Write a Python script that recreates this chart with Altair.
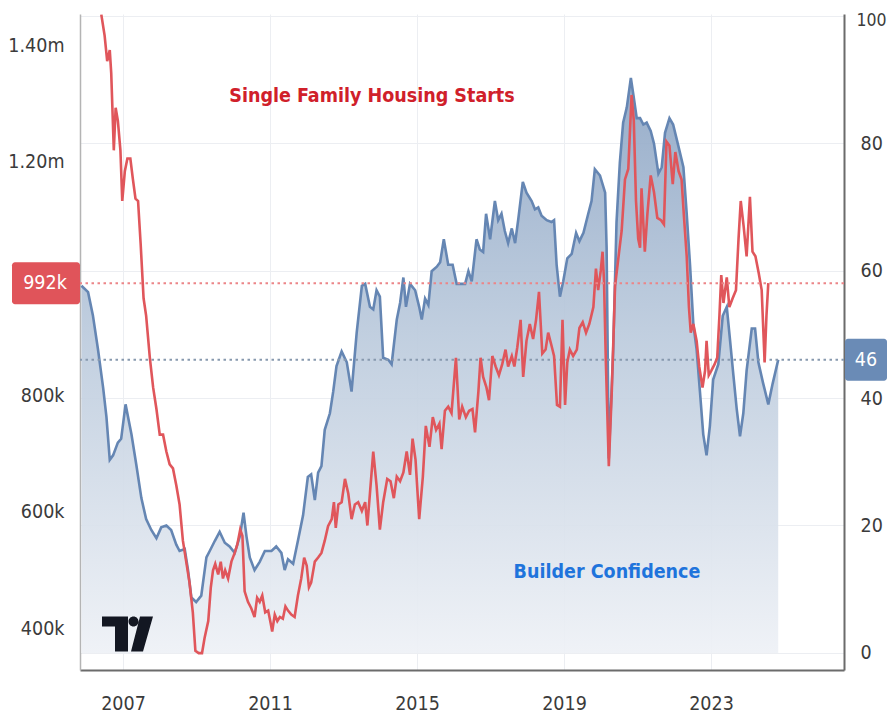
import altair as alt
import pandas as pd

# ---------------- data ----------------
BLUE_YEARS = [2005.87, 2006.05, 2006.18, 2006.32, 2006.46, 2006.55, 2006.64, 2006.73, 2006.86, 2006.95,
              2007.07, 2007.23, 2007.36, 2007.50, 2007.63, 2007.77, 2007.91, 2008.04, 2008.18, 2008.31,
              2008.45, 2008.54, 2008.68, 2008.77, 2008.86, 2008.99, 2009.13, 2009.27, 2009.36, 2009.50,
              2009.63, 2009.77, 2009.90, 2010.04, 2010.18, 2010.28, 2010.36, 2010.45, 2010.58, 2010.72,
              2010.86, 2011.04, 2011.17, 2011.31, 2011.40, 2011.49, 2011.63, 2011.76, 2011.90, 2012.03,
              2012.12, 2012.22, 2012.31, 2012.40, 2012.49, 2012.63, 2012.72, 2012.81, 2012.95, 2013.09,
              2013.22, 2013.36, 2013.50, 2013.59, 2013.72, 2013.81, 2013.90, 2013.99, 2014.08, 2014.22,
              2014.31, 2014.45, 2014.54, 2014.63, 2014.70, 2014.81, 2014.95, 2015.06, 2015.13, 2015.22,
              2015.31, 2015.40, 2015.54, 2015.63, 2015.73, 2015.85, 2015.97, 2016.08, 2016.22, 2016.31,
              2016.40, 2016.49, 2016.62, 2016.71, 2016.80, 2016.88, 2016.99, 2017.12, 2017.21, 2017.30,
              2017.39, 2017.48, 2017.58, 2017.67, 2017.76, 2017.88, 2017.98, 2018.12, 2018.21, 2018.30,
              2018.39, 2018.53, 2018.66, 2018.73, 2018.80, 2018.89, 2018.98, 2019.09, 2019.21, 2019.33,
              2019.42, 2019.53, 2019.66, 2019.75, 2019.84, 2019.98, 2020.12, 2020.16, 2020.22, 2020.34,
              2020.43, 2020.52, 2020.61, 2020.71, 2020.82, 2020.89, 2020.98, 2021.07, 2021.16, 2021.25,
              2021.36, 2021.45, 2021.57, 2021.66, 2021.75, 2021.87, 2021.97, 2022.11, 2022.25, 2022.34,
              2022.43, 2022.52, 2022.61, 2022.70, 2022.79, 2022.88, 2022.97, 2023.06, 2023.20, 2023.32,
              2023.43, 2023.52, 2023.61, 2023.70, 2023.79, 2023.88, 2023.97, 2024.11, 2024.20, 2024.29,
              2024.42, 2024.56, 2024.68, 2024.83]
BLUE_VALUES = [57.6, 56.6, 53.0, 47.6, 41.6, 37.0, 30.3, 31.0, 33.0, 33.6,
               39.0, 34.3, 29.6, 24.3, 21.0, 19.3, 18.0, 19.7, 20.0, 19.3,
               17.0, 16.0, 16.3, 13.0, 8.7, 8.0, 9.0, 15.0, 16.0, 17.6,
               19.0, 17.3, 16.7, 15.7, 18.3, 22.0, 18.3, 15.0, 13.0, 14.3,
               16.0, 16.0, 16.7, 15.7, 13.0, 14.7, 14.0, 17.6, 21.6, 27.6,
               28.0, 24.0, 28.3, 29.3, 35.0, 37.6, 41.0, 45.0, 47.3, 45.6,
               41.0, 50.3, 57.6, 57.9, 54.3, 53.9, 56.9, 55.9, 46.3, 46.0,
               45.3, 52.3, 54.9, 58.9, 54.3, 57.9, 56.9, 54.3, 52.3, 55.6,
               54.6, 59.9, 60.6, 61.3, 64.9, 60.9, 60.9, 57.9, 57.9, 57.9,
               59.9, 58.3, 64.9, 63.3, 62.9, 68.9, 64.9, 70.9, 67.9, 68.9,
               66.2, 64.3, 66.6, 64.3, 68.2, 73.9, 72.2, 70.9, 69.6, 69.9,
               68.6, 67.9, 67.6, 67.9, 60.9, 55.9, 58.3, 61.9, 62.6, 65.9,
               64.6, 65.9, 68.9, 70.9, 75.9, 74.9, 72.2, 63.6, 30.5, 47.6,
               67.6, 76.9, 83.2, 85.6, 90.2, 87.5, 83.9, 83.9, 82.9, 83.2,
               81.9, 79.9, 75.2, 76.2, 81.6, 83.9, 82.9, 79.6, 76.2, 68.9,
               60.9, 51.6, 47.6, 41.0, 34.3, 31.0, 35.6, 42.9, 45.3, 52.9,
               54.3, 49.0, 43.6, 38.3, 34.0, 37.6, 44.3, 50.9, 50.9, 45.6,
               42.3, 39.0, 42.3, 46.0]

RED_YEARS = [2006.41, 2006.50, 2006.57, 2006.64, 2006.68, 2006.75, 2006.80, 2006.86, 2006.93, 2006.98,
             2007.05, 2007.12, 2007.20, 2007.27, 2007.34, 2007.41, 2007.48, 2007.56, 2007.63, 2007.73,
             2007.82, 2007.91, 2008.00, 2008.09, 2008.18, 2008.27, 2008.36, 2008.45, 2008.54, 2008.63,
             2008.72, 2008.81, 2008.90, 2008.97, 2009.06, 2009.15, 2009.22, 2009.32, 2009.39, 2009.45,
             2009.51, 2009.59, 2009.66, 2009.72, 2009.78, 2009.86, 2009.95, 2010.04, 2010.11, 2010.19,
             2010.25, 2010.31, 2010.40, 2010.49, 2010.58, 2010.65, 2010.72, 2010.79, 2010.87, 2010.95,
             2011.02, 2011.06, 2011.13, 2011.20, 2011.27, 2011.35, 2011.42, 2011.49, 2011.58, 2011.67,
             2011.76, 2011.85, 2011.93, 2012.00, 2012.06, 2012.12, 2012.22, 2012.31, 2012.40, 2012.49,
             2012.58, 2012.68, 2012.74, 2012.79, 2012.86, 2012.95, 2013.04, 2013.13, 2013.22, 2013.31,
             2013.40, 2013.50, 2013.59, 2013.65, 2013.72, 2013.81, 2013.90, 2013.99, 2014.08, 2014.19,
             2014.28, 2014.37, 2014.45, 2014.54, 2014.63, 2014.72, 2014.81, 2014.88, 2014.96, 2015.06,
             2015.16, 2015.24, 2015.34, 2015.43, 2015.52, 2015.61, 2015.67, 2015.76, 2015.85, 2015.94,
             2016.06, 2016.15, 2016.23, 2016.33, 2016.42, 2016.51, 2016.58, 2016.67, 2016.73, 2016.80,
             2016.89, 2016.96, 2017.05, 2017.14, 2017.23, 2017.32, 2017.41, 2017.48, 2017.58, 2017.65,
             2017.73, 2017.82, 2017.89, 2017.98, 2018.07, 2018.16, 2018.24, 2018.32, 2018.41, 2018.50,
             2018.57, 2018.66, 2018.73, 2018.81, 2018.89, 2018.96, 2019.03, 2019.09, 2019.16, 2019.25,
             2019.35, 2019.42, 2019.51, 2019.60, 2019.69, 2019.80, 2019.87, 2019.93, 2020.00, 2020.05,
             2020.09, 2020.14, 2020.22, 2020.30, 2020.39, 2020.48, 2020.57, 2020.66, 2020.75, 2020.84,
             2020.90, 2020.96, 2021.02, 2021.07, 2021.11, 2021.20, 2021.27, 2021.36, 2021.45, 2021.54,
             2021.64, 2021.72, 2021.79, 2021.87, 2021.96, 2022.03, 2022.12, 2022.20, 2022.26, 2022.34,
             2022.40, 2022.45, 2022.52, 2022.61, 2022.68, 2022.77, 2022.84, 2022.88, 2022.94, 2023.01,
             2023.10, 2023.17, 2023.23, 2023.28, 2023.34, 2023.43, 2023.50, 2023.59, 2023.68, 2023.75,
             2023.81, 2023.89, 2023.97, 2024.06, 2024.13, 2024.21, 2024.30, 2024.38, 2024.46, 2024.51,
             2024.56]
RED_VALUES = [1453, 1417, 1373, 1392, 1352, 1220, 1293, 1271, 1220, 1133,
              1184, 1206, 1206, 1170, 1137, 1133, 1060, 966, 936, 864,
              813, 776, 732, 732, 703, 681, 674, 645, 612, 550,
              514, 478, 427, 361, 357, 357, 383, 412, 470, 499,
              510, 492, 514, 485, 499, 485, 514, 529, 543, 569,
              558, 463, 445, 434, 419, 452, 445, 456, 427, 430,
              408, 394, 423, 412, 419, 416, 437, 430, 423, 419,
              456, 485, 521, 507, 470, 478, 514, 521, 529, 550,
              575, 587, 616, 572, 612, 616, 656, 631, 587, 612,
              616, 601, 616, 576, 631, 703, 645, 569, 616, 656,
              652, 623, 660, 652, 667, 703, 663, 725, 689, 587,
              660, 747, 711, 762, 740, 751, 707, 773, 780, 769,
              864, 758, 780, 762, 773, 776, 736, 805, 864, 831,
              813, 791, 867, 849, 834, 853, 878, 849, 867, 849,
              882, 929, 831, 893, 922, 896, 929, 977, 871, 878,
              907, 885, 867, 783, 780, 929, 783, 856, 878, 867,
              878, 915, 925, 907, 922, 951, 1017, 980, 1013, 1046,
              995, 856, 678, 805, 987, 1035, 1082, 1170, 1188, 1315,
              1271, 1133, 1068, 1053, 1155, 1046, 1111, 1177, 1148, 1104,
              1100, 1093, 1235, 1228, 1162, 1217, 1184, 1170, 1111, 1038,
              951, 907, 922, 893, 849, 813, 842, 893, 834, 842,
              853, 864, 936, 1006, 958, 1002, 951, 966, 980, 1068,
              1133, 1089, 1038, 1140, 1046, 1038, 1009, 980, 856, 936,
              992]

YEAR_TICKS = [2007, 2011, 2015, 2019, 2023]
LEFT_TICKS = [400, 600, 800, 1200, 1400]
RIGHT_TICKS = [0, 20, 40, 60, 80, 100]
RED_LAST = 992
BLUE_LAST = 46
TITLE_RED = "Single Family Housing Starts"
TITLE_BLUE = "Builder Confidence"

# ---------------- styling ----------------
W, H = 764, 656
FONT = "DejaVu Sans Condensed, DejaVu Sans, sans-serif"
FS = 19.5
RED = "#e0565b"
BLUE = "#6586b3"
AXIS_TXT = "#3b3b3b"
GRID = "#eceef2"

blue_df = pd.DataFrame({"year": BLUE_YEARS, "conf": BLUE_VALUES})
red_df = pd.DataFrame({"year": RED_YEARS, "starts": RED_VALUES})


def x_scale():
    return alt.Scale(domain=[2005.83, 2026.62], nice=False, zero=False)


def blue_scale():
    return alt.Scale(domain=[-2.67, 100.24], nice=False, zero=False)


def red_scale():
    return alt.Scale(domain=[328, 1454], nice=False, zero=False)


def x_axis():
    return alt.Axis(orient="bottom", values=YEAR_TICKS, format="d", title=None, grid=True,
                    gridColor=GRID, domainColor="#6b6b6b", domainWidth=2, ticks=False,
                    labelPadding=24, labelFontSize=FS, labelFont=FONT, labelColor=AXIS_TXT,
                    labelOverlap=False)


TOP_TEST = "datum.value >= 100"
right_axis = alt.Axis(orient="right", values=RIGHT_TICKS, title=None, grid=True, gridColor=GRID,
                      domainColor="#6b6b6b", domainWidth=2, ticks=False,
                      labelPadding={"condition": {"test": TOP_TEST, "value": 12}, "value": 16},
                      labelFontSize={"condition": {"test": TOP_TEST, "value": 17.5}, "value": FS},
                      labelOffset={"condition": {"test": TOP_TEST, "value": 5}, "value": 0},
                      labelFont=FONT, labelColor=AXIS_TXT, labelOverlap=False)
left_axis = alt.Axis(orient="left", values=LEFT_TICKS, title=None, grid=False,
                     domainColor="#b4b4b4", domainWidth=1.5, ticks=False, labelPadding=16,
                     labelFontSize=FS, labelFont=FONT, labelColor=AXIS_TXT, labelOverlap=False,
                     labelExpr="datum.value >= 1000 ? format(datum.value / 1000, '.2f') + 'm' : datum.value + 'k'")

gradient = alt.Gradient(
    gradient="linear", x1=0, y1=0, x2=0, y2=1,
    stops=[alt.GradientStop(offset=0, color="#8ea6c5"),
           alt.GradientStop(offset=0.45, color="#bccbdd"),
           alt.GradientStop(offset=1, color="#eef1f6")])

area = alt.Chart(blue_df).mark_area(
    fill=gradient, fillOpacity=0.92,
    line=alt.OverlayMarkDef(color=BLUE, strokeWidth=2.6),
).encode(
    x=alt.X("year:Q", scale=x_scale(), axis=x_axis()),
    y=alt.Y("conf:Q", scale=blue_scale(), axis=right_axis),
    y2=alt.value(H),
)

blue_rule = alt.Chart().mark_rule(color="#8799ae", strokeWidth=2, strokeDash=[2.5, 3.5]).encode(
    y=alt.Y(datum=BLUE_LAST, type="quantitative", scale=blue_scale(), axis=None))
blue_box = alt.Chart().mark_rect(fill="#6a8bb6", cornerRadius=3, yOffset=-21, y2Offset=21).encode(
    x=alt.value(765), x2=alt.value(807),
    y=alt.Y(datum=BLUE_LAST, type="quantitative", scale=blue_scale(), axis=None),
    y2=alt.Y2(datum=BLUE_LAST))
blue_txt = alt.Chart().mark_text(color="white", font=FONT, fontSize=FS, align="center",
                                 baseline="middle").encode(
    x=alt.value(786),
    y=alt.Y(datum=BLUE_LAST, type="quantitative", scale=blue_scale(), axis=None),
    text=alt.value(str(BLUE_LAST)))

red_line = alt.Chart(red_df).mark_line(color=RED, strokeWidth=2.6, clip=True).encode(
    x=alt.X("year:Q", scale=x_scale(), axis=x_axis()),
    y=alt.Y("starts:Q", scale=red_scale(), axis=left_axis),
)
red_rule = alt.Chart().mark_rule(color="#ec8588", strokeWidth=2, strokeDash=[2.5, 3.5]).encode(
    y=alt.Y(datum=RED_LAST, type="quantitative", scale=red_scale(), axis=None))
red_box = alt.Chart().mark_rect(fill="#e0545a", cornerRadius=3, yOffset=-21, y2Offset=21).encode(
    x=alt.value(-68), x2=alt.value(0),
    y=alt.Y(datum=RED_LAST, type="quantitative", scale=red_scale(), axis=None),
    y2=alt.Y2(datum=RED_LAST))
red_txt = alt.Chart().mark_text(color="white", font=FONT, fontSize=FS, align="center",
                                baseline="middle").encode(
    x=alt.value(-35),
    y=alt.Y(datum=RED_LAST, type="quantitative", scale=red_scale(), axis=None),
    text=alt.value(f"{RED_LAST}k"))

title_red = alt.Chart().mark_text(color="#d0202a", font=FONT, fontSize=FS, fontWeight="bold",
                                  align="center", baseline="middle").encode(
    x=alt.value(292), y=alt.value(82), text=alt.value(TITLE_RED))
title_blue = alt.Chart().mark_text(color="#1f74dc", font=FONT, fontSize=FS, fontWeight="bold",
                                   align="center", baseline="middle").encode(
    x=alt.value(527), y=alt.value(558), text=alt.value(TITLE_BLUE))

LOGO = ("M -25 -17.5 L 1 -17.5 L 1 17.5 L -12 17.5 L -12 -7.5 L -25 -7.5 Z "
        "M 1.5 -12.5 A 5 5 0 1 0 11.5 -12.5 A 5 5 0 1 0 1.5 -12.5 Z "
        "M 13 -17.5 L 26 -17.5 L 16 17.5 L 4 17.5 Z")
logo = alt.Chart().mark_point(shape=LOGO, size=4, filled=True, fill="#131722", opacity=1,
                              strokeWidth=0).encode(x=alt.value(47), y=alt.value(620))

chart = alt.layer(
    area, blue_rule, red_line, red_rule, blue_box, blue_txt, red_box, red_txt,
    title_red, title_blue, logo
).resolve_scale(
    y="independent"
).properties(
    width=W, height=H,
    autosize=alt.AutoSizeParams(type="none"),
    padding={"left": 72, "top": 6, "right": 43, "bottom": 45},
    background="white",
).configure_view(stroke=None)

chart.save("out.html", embed_options={"renderer": "svg", "actions": False})
